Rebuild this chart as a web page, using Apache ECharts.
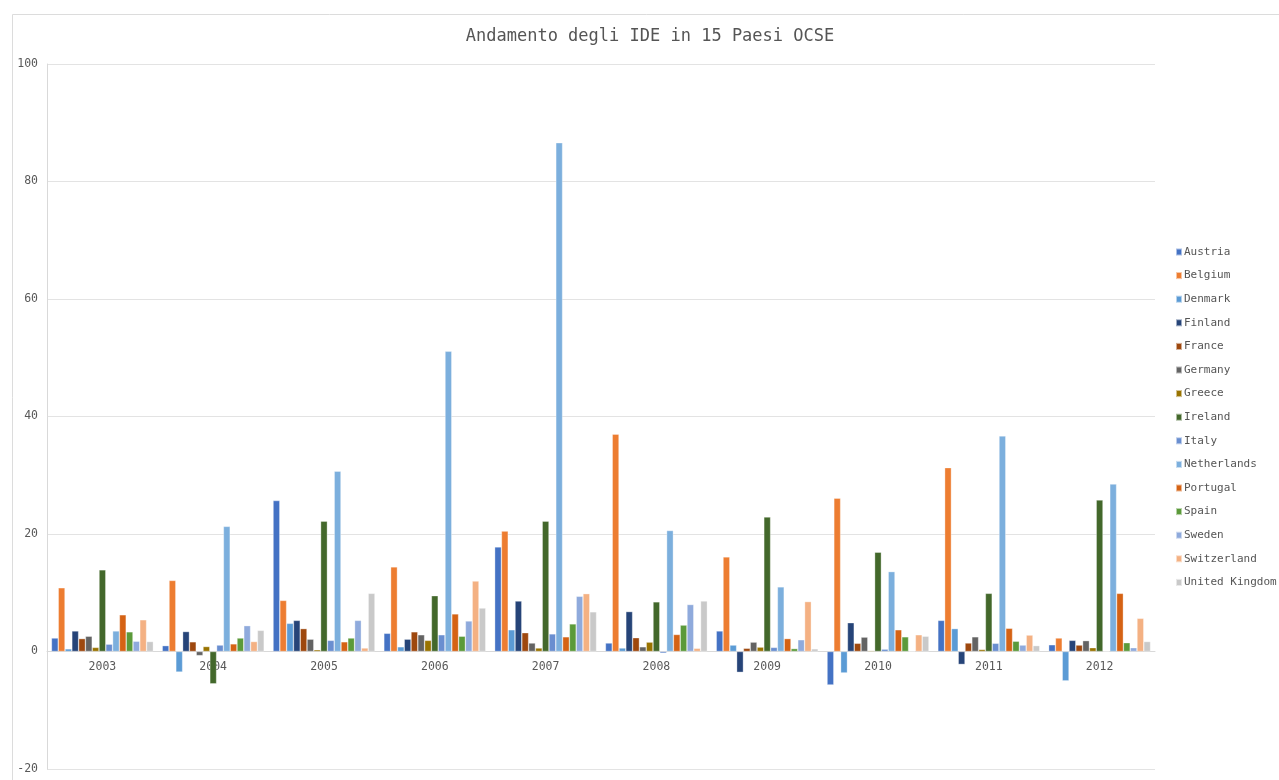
<!DOCTYPE html>
<html>
<head>
<meta charset="utf-8">
<title>Andamento degli IDE in 15 Paesi OCSE</title>
<script src="https://cdn.jsdelivr.net/npm/echarts@6/dist/echarts.min.js"></script>
<style>
  html, body { margin: 0; padding: 0; background: #ffffff; }
  #chart { width: 1279px; height: 780px; }
</style>
</head>
<body>
<div id="chart"></div>
<script>
// Years on the category axis
const years = ['2003', '2004', '2005', '2006', '2007', '2008', '2009', '2010', '2011', '2012'];

// FDI values per country, one entry per year (2003 … 2012)
const austria     = [2.3, 1.0, 25.7, 3.1, 17.8, 1.45, 3.5, -5.7, 5.3, 1.15];
const belgium     = [10.85, 12.1, 8.7, 14.4, 20.5, 37.0, 16.1, 26.1, 31.3, 2.3];
const denmark     = [0.45, -3.5, 4.8, 0.8, 3.7, 0.6, 1.1, -3.65, 3.9, -5.0];
const finland     = [3.5, 3.4, 5.3, 2.1, 8.6, 6.8, -3.55, 4.9, -2.2, 1.9];
const france      = [2.2, 1.65, 3.9, 3.35, 3.2, 2.35, 0.55, 1.4, 1.45, 1.1];
const germany     = [2.6, -0.7, 2.1, 2.85, 1.45, 0.8, 1.6, 2.45, 2.5, 1.85];
const greece      = [0.7, 0.85, 0.3, 1.9, 0.6, 1.6, 0.75, 0.15, 0.35, 0.65];
const ireland     = [13.9, -5.5, 22.2, 9.5, 22.2, 8.45, 22.9, 16.9, 9.9, 25.8];
const italy       = [1.25, 1.1, 1.9, 2.85, 3.0, -0.3, 0.7, 0.4, 1.4, 0.1];
const netherlands = [3.5, 21.3, 30.7, 51.1, 86.6, 20.6, 11.0, 13.6, 36.7, 28.5];
const portugal    = [6.25, 1.3, 1.65, 6.4, 2.5, 2.9, 2.2, 3.7, 3.95, 9.9];
const spain       = [3.35, 2.3, 2.3, 2.6, 4.7, 4.5, 0.5, 2.5, 1.75, 1.5];
const sweden      = [1.75, 4.4, 5.3, 5.2, 9.4, 8.0, 2.0, 0.05, 1.1, 0.65];
const switzerland = [5.4, 1.7, 0.6, 12.0, 9.85, 0.55, 8.5, 2.85, 2.8, 5.65];
const unitedKingdom = [1.7, 3.6, 9.9, 7.4, 6.75, 8.6, 0.45, 2.6, 1.0, 1.7];

// Country names shown in the legend
const countries = ['Austria', 'Belgium', 'Denmark', 'Finland', 'France', 'Germany', 'Greece',
  'Ireland', 'Italy', 'Netherlands', 'Portugal', 'Spain', 'Sweden', 'Switzerland', 'United Kingdom'];
const countryValues = [austria, belgium, denmark, finland, france, germany, greece,
  ireland, italy, netherlands, portugal, spain, sweden, switzerland, unitedKingdom];

// Y-axis range and step
const yMin = -20, yMax = 100, yStep = 20;

const palette = ['#4472C4', '#ED7D31', '#5B9BD5', '#264478', '#9E480E', '#636363', '#997300',
  '#43682B', '#698ED0', '#7CAFDD', '#D56214', '#5B9A3A', '#8FAADC', '#F4B183', '#C9C9C9'];

const FONT = 'DejaVu Sans Mono';

// Plot area in pixels
const gridTop = 64, gridBottom = 11, chartHeight = 780;
const plotHeight = chartHeight - gridTop - gridBottom;
// The category axis sits on the value 0: shift it up from the bottom edge
const zeroOffset = -plotHeight * (0 - yMin) / (yMax - yMin);

const chart = echarts.init(document.getElementById('chart'), null, { renderer: 'canvas' });

chart.setOption({
  animation: false,
  backgroundColor: '#ffffff',
  color: palette,
  textStyle: { fontFamily: FONT },
  graphic: [{
    type: 'rect',
    left: 10, top: 12,
    shape: { width: 1300, height: 800 },
    style: { fill: 'none', stroke: '#dcdcdc', lineWidth: 1 },
    silent: true, z: -10
  }],
  title: {
    text: 'Andamento degli IDE in 15 Paesi OCSE',
    left: 645, top: 23,
    textAlign: 'center',
    textStyle: { fontFamily: FONT, fontSize: 17, fontWeight: 'normal', color: '#555555' }
  },
  legend: {
    orient: 'vertical',
    left: 1175, top: 245,
    padding: 0,
    icon: 'rect',
    itemWidth: 6, itemHeight: 7,
    itemGap: 9.6,
    textStyle: { fontFamily: FONT, fontSize: 11, color: '#555555', lineHeight: 14, padding: [0, 0, 0, -3] },
    data: countries
  },
  grid: { left: 47, right: 124, top: gridTop, bottom: gridBottom, containLabel: false, outerBoundsMode: 'none' },
  xAxis: {
    type: 'category',
    data: years,
    offset: zeroOffset,
    axisLine: { onZero: false, lineStyle: { color: '#d9d9d9', width: 1 } },
    axisTick: { show: false },
    axisLabel: { fontFamily: FONT, fontSize: 11.5, color: '#595959', margin: 10 },
    splitLine: { show: false },
    z: 0
  },
  yAxis: {
    type: 'value',
    min: yMin, max: yMax, interval: yStep,
    axisLine: { show: true, lineStyle: { color: '#d9d9d9' } },
    axisTick: { show: false },
    axisLabel: { fontFamily: FONT, fontSize: 11.5, color: '#595959', margin: 9 },
    splitLine: { lineStyle: { color: '#e3e3e3', width: 1 } }
  },
  series: countries.map((name, i) => ({
    name: name,
    type: 'bar',
    data: countryValues[i],
    barGap: '0%',
    barCategoryGap: '8%',
    itemStyle: { borderColor: 'rgba(255,255,255,0.55)', borderWidth: 0.6 }
  }))
});
</script>
</body>
</html>
